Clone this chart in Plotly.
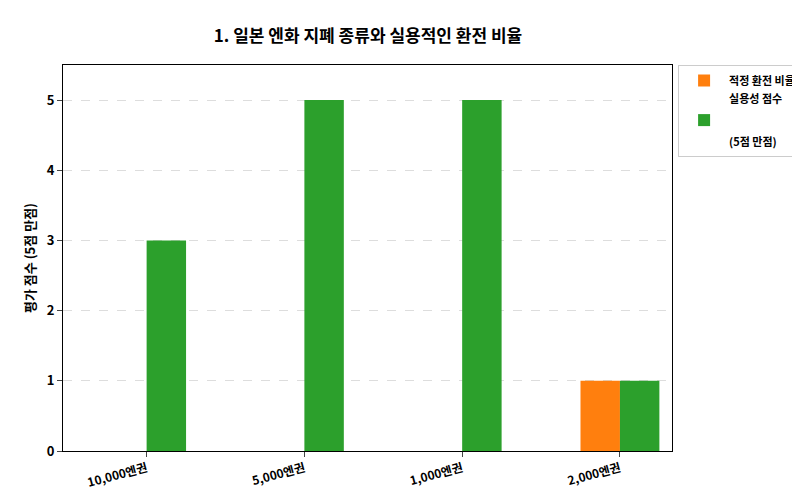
import plotly.graph_objects as go

denominations = ['10,000엔권', '5,000엔권', '1,000엔권', '2,000엔권']
exchange_ratio = [0, 0, 0, 1]
practicality = [3, 5, 5, 1]
y_ticks = [0, 1, 2, 3, 4, 5]

font = "Noto Sans CJK KR"
x = list(range(len(denominations)))

fig = go.Figure()
fig.add_trace(go.Bar(x=x, y=exchange_ratio, name='<b>적정 환전 비율</b>',
                     marker_color='#ff7f0e', marker_line_width=0,
                     width=0.25, offset=-0.25))
fig.add_trace(go.Bar(x=x, y=practicality, name='<b>실용성 점수</b><br><br><br><b>(5점 만점)</b>',
                     marker_color='#2ca02c', marker_line_width=0,
                     width=0.25, offset=0))

fig.update_layout(
    width=800, height=500,
    font=dict(family=font, size=12, color='black'),
    title=dict(text='<b>1. 일본 엔화 지폐 종류와 실용적인 환전 비율</b>',
               x=0.45, xanchor='center', y=0.955, font=dict(size=17)),
    plot_bgcolor='white', paper_bgcolor='white',
    margin=dict(l=55, r=136, t=57, b=57, autoexpand=False),
    barmode='overlay',
    showlegend=True,
    legend=dict(x=1.01, y=1, xanchor='left', yanchor='top',
                bordercolor='#cccccc', borderwidth=1,
                font=dict(size=11), tracegroupgap=0, itemwidth=40),
)
fig.update_xaxes(tickvals=x, ticktext=['<b>%s</b>' % d for d in denominations],
                 tickangle=-15, range=[-0.53, 3.33], automargin=False,
                 showline=True, linecolor='black', mirror=True,
                 ticks='outside', showgrid=False, tickfont=dict(size=12))
fig.update_yaxes(range=[0, 5.5], tickvals=y_ticks, automargin=False,
                 ticktext=['<b>%d</b>' % t for t in y_ticks],
                 title=dict(text='<b>평가 점수 (5점 만점)</b>', font=dict(size=13), standoff=8),
                 showline=True, linecolor='black', mirror=True, ticks='outside',
                 showgrid=True, gridcolor='#dddddd', griddash='dash',
                 zeroline=False, tickfont=dict(size=13))

fig.write_html("out.html")
